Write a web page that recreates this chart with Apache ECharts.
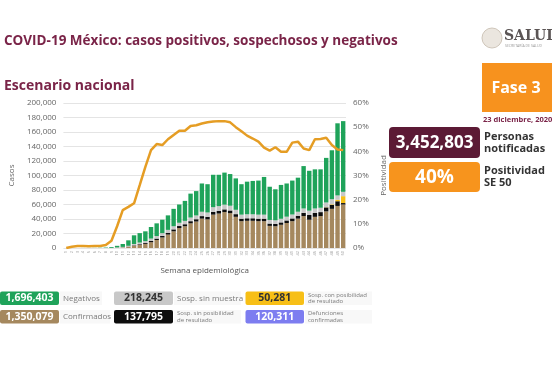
<!DOCTYPE html>
<html><head><meta charset="utf-8">
<script src="https://cdn.jsdelivr.net/npm/echarts@6/dist/echarts.min.js"></script>
<style>html,body{margin:0;padding:0;background:#fff}#c{width:552px;height:368px}</style>
</head><body><div id="c"></div>
<script>
const weeks = ['1','2','3','4','5','6','7','8','9','10','11','12','13','14','15','16','17','18','19','20','21','22','23','24','25','26','27','28','29','30','31','32','33','34','35','36','37','38','39','40','41','42','43','44','45','46','47','48','49','50'];
const confirmados = [0,0,0,0,0,0,0,2,30,400,700,1600,3000,4200,5500,8000,11000,14500,18500,23000,27500,30000,34000,36500,40500,39500,46000,47500,49500,48000,43000,37000,37500,37500,37000,37000,30500,30000,32000,34500,37000,40500,44000,39000,43000,44000,50500,54000,58000,60000];
const sospSinPosibilidad = [0,0,0,0,0,0,0,5,30,100,200,400,700,1000,1300,1700,2000,2300,2500,2700,2800,2800,3000,3200,3500,3500,3800,3800,3800,3800,3700,3500,3500,3500,3500,3500,3200,3200,3300,3500,3800,4000,4500,6500,5500,5500,5500,5500,6500,2000];
const sospConPosibilidad = [0,0,0,0,0,0,0,0,0,0,0,0,0,0,0,0,0,0,0,0,0,0,0,0,0,0,0,0,0,0,0,0,0,0,0,0,0,0,0,0,0,0,0,0,0,0,300,800,2000,9500];
const sinMuestra = [0,0,0,0,0,0,0,10,60,400,600,1000,1800,2300,2700,3300,3500,3700,4000,4300,4500,4600,5000,5200,6000,6000,6500,6500,6500,6500,6000,5500,5500,5500,5500,5500,5000,5000,5000,5200,5400,5500,6000,6000,6000,6000,6500,7000,6000,6000];
const negativos = [10,20,40,80,120,200,350,600,1200,2100,4000,7600,12000,13000,13500,16000,17500,18500,20000,24000,25200,27600,33000,33600,39000,39000,44700,43200,44200,43700,43300,42000,45000,46000,47000,52000,45800,42800,46700,45800,46800,47000,58500,55000,54000,53000,61500,67500,99500,97500];
const positividad = [0,0.5,0.8,0.8,0.7,0.8,0.8,1.2,3,9,15.7,17,18.5,26,33.6,40.5,43,42.6,45,46.8,48.5,48.5,50.5,50.8,51.5,52,52.3,52.5,52.5,52,50,48.3,46.5,45.3,44,41.5,40.3,41.7,39.8,39.8,43.6,44,41.2,40.5,45,45.1,45.6,42.6,40.8,40.5];

const FONT = '"Open Sans", sans-serif';
const MAROON = '#7a2448';
const chart = echarts.init(document.getElementById('c'), null, {renderer:'canvas'});

function box(x, y, w, h, fill, label, color) {
  return [
    {type:'rect', shape:{x:x, y:y, width:w, height:h, r:2}, style:{fill:fill}},
    {type:'text', x:x + w/2, y:y + h/2, style:{text:label, fill:color, font:'bold 10.5px ' + FONT, align:'center', verticalAlign:'middle'}}
  ];
}
function lab(x, y, w, h, lines) {
  const els = [{type:'rect', shape:{x:x, y:y, width:w, height:h}, style:{fill:'#f8f8f8'}}];
  if (lines.length === 1) {
    els.push({type:'text', x:x + 3, y:y + h/2, style:{text:lines[0], fill:'#7a7a7a', font:'8px ' + FONT, verticalAlign:'middle'}});
  } else {
    els.push({type:'text', x:x + 3, y:y + h/2 - 3.3, style:{text:lines[0], fill:'#7a7a7a', font:'6px ' + FONT, verticalAlign:'middle'}});
    els.push({type:'text', x:x + 3, y:y + h/2 + 3.5, style:{text:lines[1], fill:'#7a7a7a', font:'6px ' + FONT, verticalAlign:'middle'}});
  }
  return els;
}

const graphics = [].concat(
  [{type:'text', x:4, y:41, style:{text:'COVID-19 México: casos positivos, sospechosos y negativos', fill:MAROON, font:'bold 13.5px ' + FONT, verticalAlign:'middle'}},
   {type:'text', x:4, y:86, style:{text:'Escenario nacional', fill:MAROON, font:'bold 14px ' + FONT, verticalAlign:'middle'}},
   {type:'circle', shape:{cx:492, cy:38, r:10}, style:{fill:'#ebe6df', stroke:'#cfc6ba', lineWidth:1}},
   {type:'text', x:504, y:36, style:{text:'SALUD', fill:'#5b5555', font:'bold 14px "DejaVu Serif", serif', verticalAlign:'middle'}},
   {type:'text', x:505, y:46, style:{text:'SECRETARÍA DE SALUD', fill:'#999', font:'3.5px ' + FONT, verticalAlign:'middle'}},
   {type:'rect', shape:{x:482, y:63, width:70, height:49}, style:{fill:'#f7921e'}},
   {type:'text', x:516, y:88, style:{text:'Fase 3', fill:'#fff', font:'bold 16px ' + FONT, align:'center', verticalAlign:'middle'}},
   {type:'text', x:483, y:120, style:{text:'23 diciembre, 2020', fill:MAROON, font:'bold 7.5px ' + FONT, verticalAlign:'middle'}},
   {type:'rect', shape:{x:389, y:127, width:91, height:31, r:4}, style:{fill:'#5c1a35'}},
   {type:'text', x:434.5, y:143, style:{text:'3,452,803', fill:'#fff', font:'bold 17px ' + FONT, align:'center', verticalAlign:'middle'}},
   {type:'text', x:484, y:137, style:{text:'Personas', fill:'#333', font:'bold 11px ' + FONT, verticalAlign:'middle'}},
   {type:'text', x:484, y:149, style:{text:'notificadas', fill:'#333', font:'bold 11px ' + FONT, verticalAlign:'middle'}},
   {type:'rect', shape:{x:389, y:162, width:91, height:30, r:4}, style:{fill:'#f7941d'}},
   {type:'text', x:434.5, y:177.5, style:{text:'40%', fill:'#fff', font:'bold 19px ' + FONT, align:'center', verticalAlign:'middle'}},
   {type:'text', x:484, y:170.5, style:{text:'Positividad', fill:'#333', font:'bold 11px ' + FONT, verticalAlign:'middle'}},
   {type:'text', x:484, y:182.5, style:{text:'SE 50', fill:'#333', font:'bold 11px ' + FONT, verticalAlign:'middle'}}
  ],
  box(0, 291.5, 59, 13.5, '#1fa35a', '1,696,403', '#fff'), lab(60, 291.5, 42, 13.5, ['Negativos']),
  box(114, 291.5, 59, 13.5, '#c8c8c8', '218,245', '#333'), lab(174, 291.5, 67, 13.5, ['Sosp. sin muestra']),
  box(245.5, 291.5, 58.5, 13.5, '#f7bf16', '50,281', '#333'), lab(305, 291.5, 67, 13.5, ['Sosp. con posibilidad', 'de resultado']),
  box(0, 310, 59, 13.5, '#a5885e', '1,350,079', '#fff'), lab(60, 310, 50, 13.5, ['Confirmados']),
  box(114, 310, 59, 13.5, '#0d0d0d', '137,795', '#fff'), lab(174, 310, 67, 13.5, ['Sosp. sin posibilidad', 'de resultado']),
  box(245.5, 310, 58.5, 13.5, '#7d7df0', '120,311', '#fff'), lab(305, 310, 67, 13.5, ['Defunciones', 'confirmadas'])
);

const barCommon = {type:'bar', stack:'casos', barCategoryGap:'22%', yAxisIndex:0};
chart.setOption({
  animation:false,
  backgroundColor:'#ffffff',
  textStyle:{fontFamily:FONT},
  grid:{left:53, right:206, top:103, bottom:120},
  xAxis:{type:'category', data:weeks, axisTick:{show:false}, axisLine:{show:false},
    axisLabel:{interval:0, rotate:90, fontSize:4, color:'#999', margin:3},
    name:'Semana epidemiológica', nameLocation:'middle', nameGap:19, nameTextStyle:{fontSize:8, color:'#555'}},
  yAxis:[
    {type:'value', min:0, max:200000, interval:20000,
      axisLabel:{fontSize:8, color:'#666', margin:7, formatter:v => v.toLocaleString('en-US')},
      splitLine:{lineStyle:{color:'#e4e4e4'}}, axisLine:{show:false}, axisTick:{show:false},
      name:'Casos', nameLocation:'middle', nameGap:42, nameTextStyle:{fontSize:8, color:'#666'}},
    {type:'value', min:0, max:60, interval:10, position:'right',
      axisLabel:{fontSize:8, color:'#666', margin:7, formatter:'{value}%'},
      splitLine:{show:false}, axisLine:{show:false}, axisTick:{show:false},
      name:'Positividad', nameLocation:'middle', nameGap:24, nameTextStyle:{fontSize:8, color:'#666'}}
  ],
  series:[
    Object.assign({name:'Confirmados', data:confirmados, itemStyle:{color:'#a5885e'}}, barCommon),
    Object.assign({name:'Sosp. sin posibilidad', data:sospSinPosibilidad, itemStyle:{color:'#0d0d0d'}}, barCommon),
    Object.assign({name:'Sosp. con posibilidad', data:sospConPosibilidad, itemStyle:{color:'#f7bf16'}}, barCommon),
    Object.assign({name:'Sosp. sin muestra', data:sinMuestra, itemStyle:{color:'#c8c8c8'}}, barCommon),
    Object.assign({name:'Negativos', data:negativos, itemStyle:{color:'#1fa35a'}}, barCommon),
    {name:'Positividad', type:'line', yAxisIndex:1, data:positividad, symbol:'none', smooth:false,
      lineStyle:{color:'#e59d24', width:2.5}, z:5}
  ],
  graphic:graphics
});
</script>
</body></html>
